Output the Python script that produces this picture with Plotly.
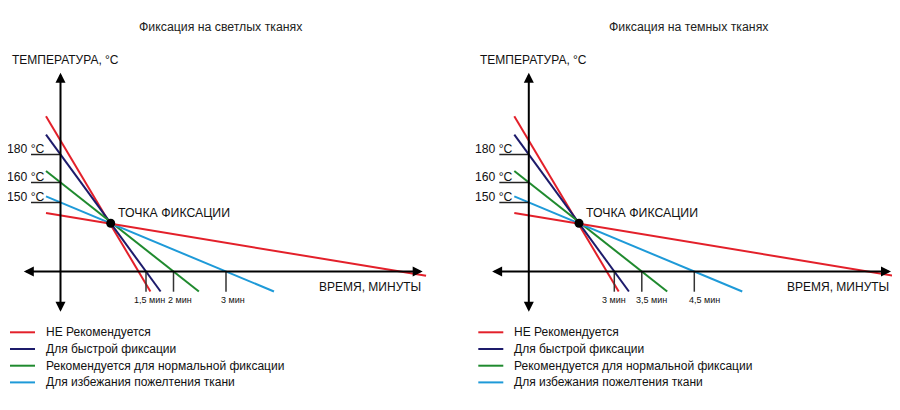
import plotly.graph_objects as go

FONT = "Liberation Sans, Arial, sans-serif"

# ── Data (schematic units, origin where the two axes cross) ──────────────────
TITLES = ["Фиксация на светлых тканях", "Фиксация на темных тканях"]

SERIES = [
    "НЕ Рекомендуется",
    "Для быстрой фиксации",
    "Рекомендуется для нормальной фиксации",
    "Для избежания пожелтения ткани",
    "НЕ Рекомендуется",          # second (shallow) red line, no legend entry
]
COLORS = ["#e3202a", "#1d1b6b", "#1f8a2e", "#1e9ad8", "#e3202a"]
SHOW_IN_LEGEND = [True, True, True, True, False]

TEMP_TICKS = [117, 89, 69]
TEMP_LABELS = ["180 °C", "160 °C", "150 °C"]
TIME_TICKS = [85.5, 113, 165.5]
TIME_LABELS = [
    ["1,5 мин", "2 мин", "3 мин"],
    ["3 мин", "3,5 мин", "4,5 мин"],
]

# where each line meets the temperature axis and the time axis
TEMP_AT_AXIS = [131] + TEMP_TICKS + [56]
TIME_AT_AXIS = [78] + TIME_TICKS + [339.5]
LINE_START_X = -14.5
LINE_END_Y = [-20, -20, -20, -20, -4.3]

FIX_X = [50.2]
FIX_Y = [48.2]

# ── Layout constants ─────────────────────────────────────────────────────────
W, H = 900, 410
PAGE_MARGIN = 8  # default <body> margin of the html page
X_RANGES = [[-60.5 + PAGE_MARGIN, 389.5 + PAGE_MARGIN],
            [-78.8 + PAGE_MARGIN, 371.2 + PAGE_MARGIN]]
Y_RANGE = [-138.5 - PAGE_MARGIN, 271.5 - PAGE_MARGIN]
TIME_LABEL_SHIFT = [[3, 6.5, 6.7], [0, 10, 10]]
LEGEND_Y0, LEGEND_STEP = -60.8, -16.7

fig = go.Figure()
annotations = []
shapes = []

for p in range(2):
    xa = "x" if p == 0 else "x2"
    ya = "y" if p == 0 else "y2"

    # axes with arrows on both ends
    for (x, y, ax, ay) in [(0, 198.8, 0, -41.8), (362.2, 0, -38.2, 0)]:
        annotations.append(dict(
            x=x, y=y, ax=ax, ay=ay, xref=xa, yref=ya, axref=xa, ayref=ya,
            text="", showarrow=True, arrowside="end+start",
            arrowhead=2, startarrowhead=2, arrowsize=1, startarrowsize=1,
            arrowwidth=2, arrowcolor="#000", standoff=0, startstandoff=0,
        ))

    # temperature ticks + labels
    for t, lab in zip(TEMP_TICKS, TEMP_LABELS):
        shapes.append(dict(type="line", xref=xa, yref=ya, x0=-29.5, x1=0, y0=t, y1=t,
                           line=dict(color="#222", width=1.5)))
        annotations.append(dict(x=-15, y=t + 5.5, xref=xa, yref=ya, text=lab,
                                showarrow=False, xanchor="right", yanchor="middle",
                                borderpad=0,
                                font=dict(family=FONT, size=12.2, color="#111")))

    # time ticks + labels
    for t, lab, sh in zip(TIME_TICKS, TIME_LABELS[p], TIME_LABEL_SHIFT[p]):
        shapes.append(dict(type="line", xref=xa, yref=ya, x0=t, x1=t, y0=0, y1=-20.2,
                           line=dict(color="#333", width=1.5)))
        annotations.append(dict(x=t + sh, y=-28.5, xref=xa, yref=ya, text=lab,
                                showarrow=False, xanchor="center", yanchor="middle",
                                font=dict(family=FONT, size=9, color="#111")))

    # colored lines through the fixation point
    for name, col, T, X0, yend in zip(SERIES, COLORS, TEMP_AT_AXIS, TIME_AT_AXIS, LINE_END_Y):
        x0 = LINE_START_X
        y0 = T * (1 - x0 / X0)
        x1 = X0 * (1 - yend / T)
        fig.add_trace(go.Scatter(
            x=[x0, x1], y=[y0, yend], xaxis=xa, yaxis=ya, mode="lines",
            line=dict(color=col, width=2), name=name, showlegend=False,
            hoverinfo="skip",
        ))

    fig.add_trace(go.Scatter(
        x=FIX_X, y=FIX_Y, xaxis=xa, yaxis=ya, mode="markers",
        marker=dict(size=9, color="#000"), showlegend=False, hoverinfo="skip",
    ))

    # texts
    annotations += [
        dict(x=160, y=244.8, text=TITLES[p], xanchor="center",
             font=dict(family=FONT, size=12.3, color="#222")),
        dict(x=-50.5, y=212, text="ТЕМПЕРАТУРА, °С", xanchor="left",
             font=dict(family=FONT, size=12, color="#111")),
        dict(x=55.5, y=58.2, text="ТОЧКА ФИКСАЦИИ", xanchor="left",
             font=dict(family=FONT, size=12.3, color="#111")),
        dict(x=362.2, y=-15.8, text="ВРЕМЯ, МИНУТЫ", xanchor="right",
             font=dict(family=FONT, size=12, color="#111")),
    ]
    for a in annotations[-4:]:
        a.update(xref=xa, yref=ya, showarrow=False, yanchor="middle")

    # hand-drawn legend
    row = 0
    for name, col, show in zip(SERIES, COLORS, SHOW_IN_LEGEND):
        if not show:
            continue
        yy = LEGEND_Y0 + row * LEGEND_STEP
        shapes.append(dict(type="line", xref=xa, yref=ya, x0=-50.5, x1=-25.5, y0=yy, y1=yy,
                           line=dict(color=col, width=2)))
        annotations.append(dict(x=-16.7, y=yy, xref=xa, yref=ya, text=name,
                                showarrow=False, xanchor="left", yanchor="middle",
                                font=dict(family=FONT, size=12, color="#111")))
        row += 1

axis_common = dict(visible=False, fixedrange=True)
fig.update_layout(
    width=W, height=H, autosize=False,
    margin=dict(l=0, r=0, t=0, b=0),
    paper_bgcolor="white", plot_bgcolor="white",
    showlegend=False,
    xaxis=dict(domain=[0, 0.5], range=X_RANGES[0], **axis_common),
    yaxis=dict(domain=[0, 1], range=Y_RANGE, anchor="x", **axis_common),
    xaxis2=dict(domain=[0.5, 1], range=X_RANGES[1], anchor="y2", **axis_common),
    yaxis2=dict(domain=[0, 1], range=Y_RANGE, anchor="x2", **axis_common),
    annotations=annotations,
    shapes=shapes,
)

fig.write_html("out.html")
